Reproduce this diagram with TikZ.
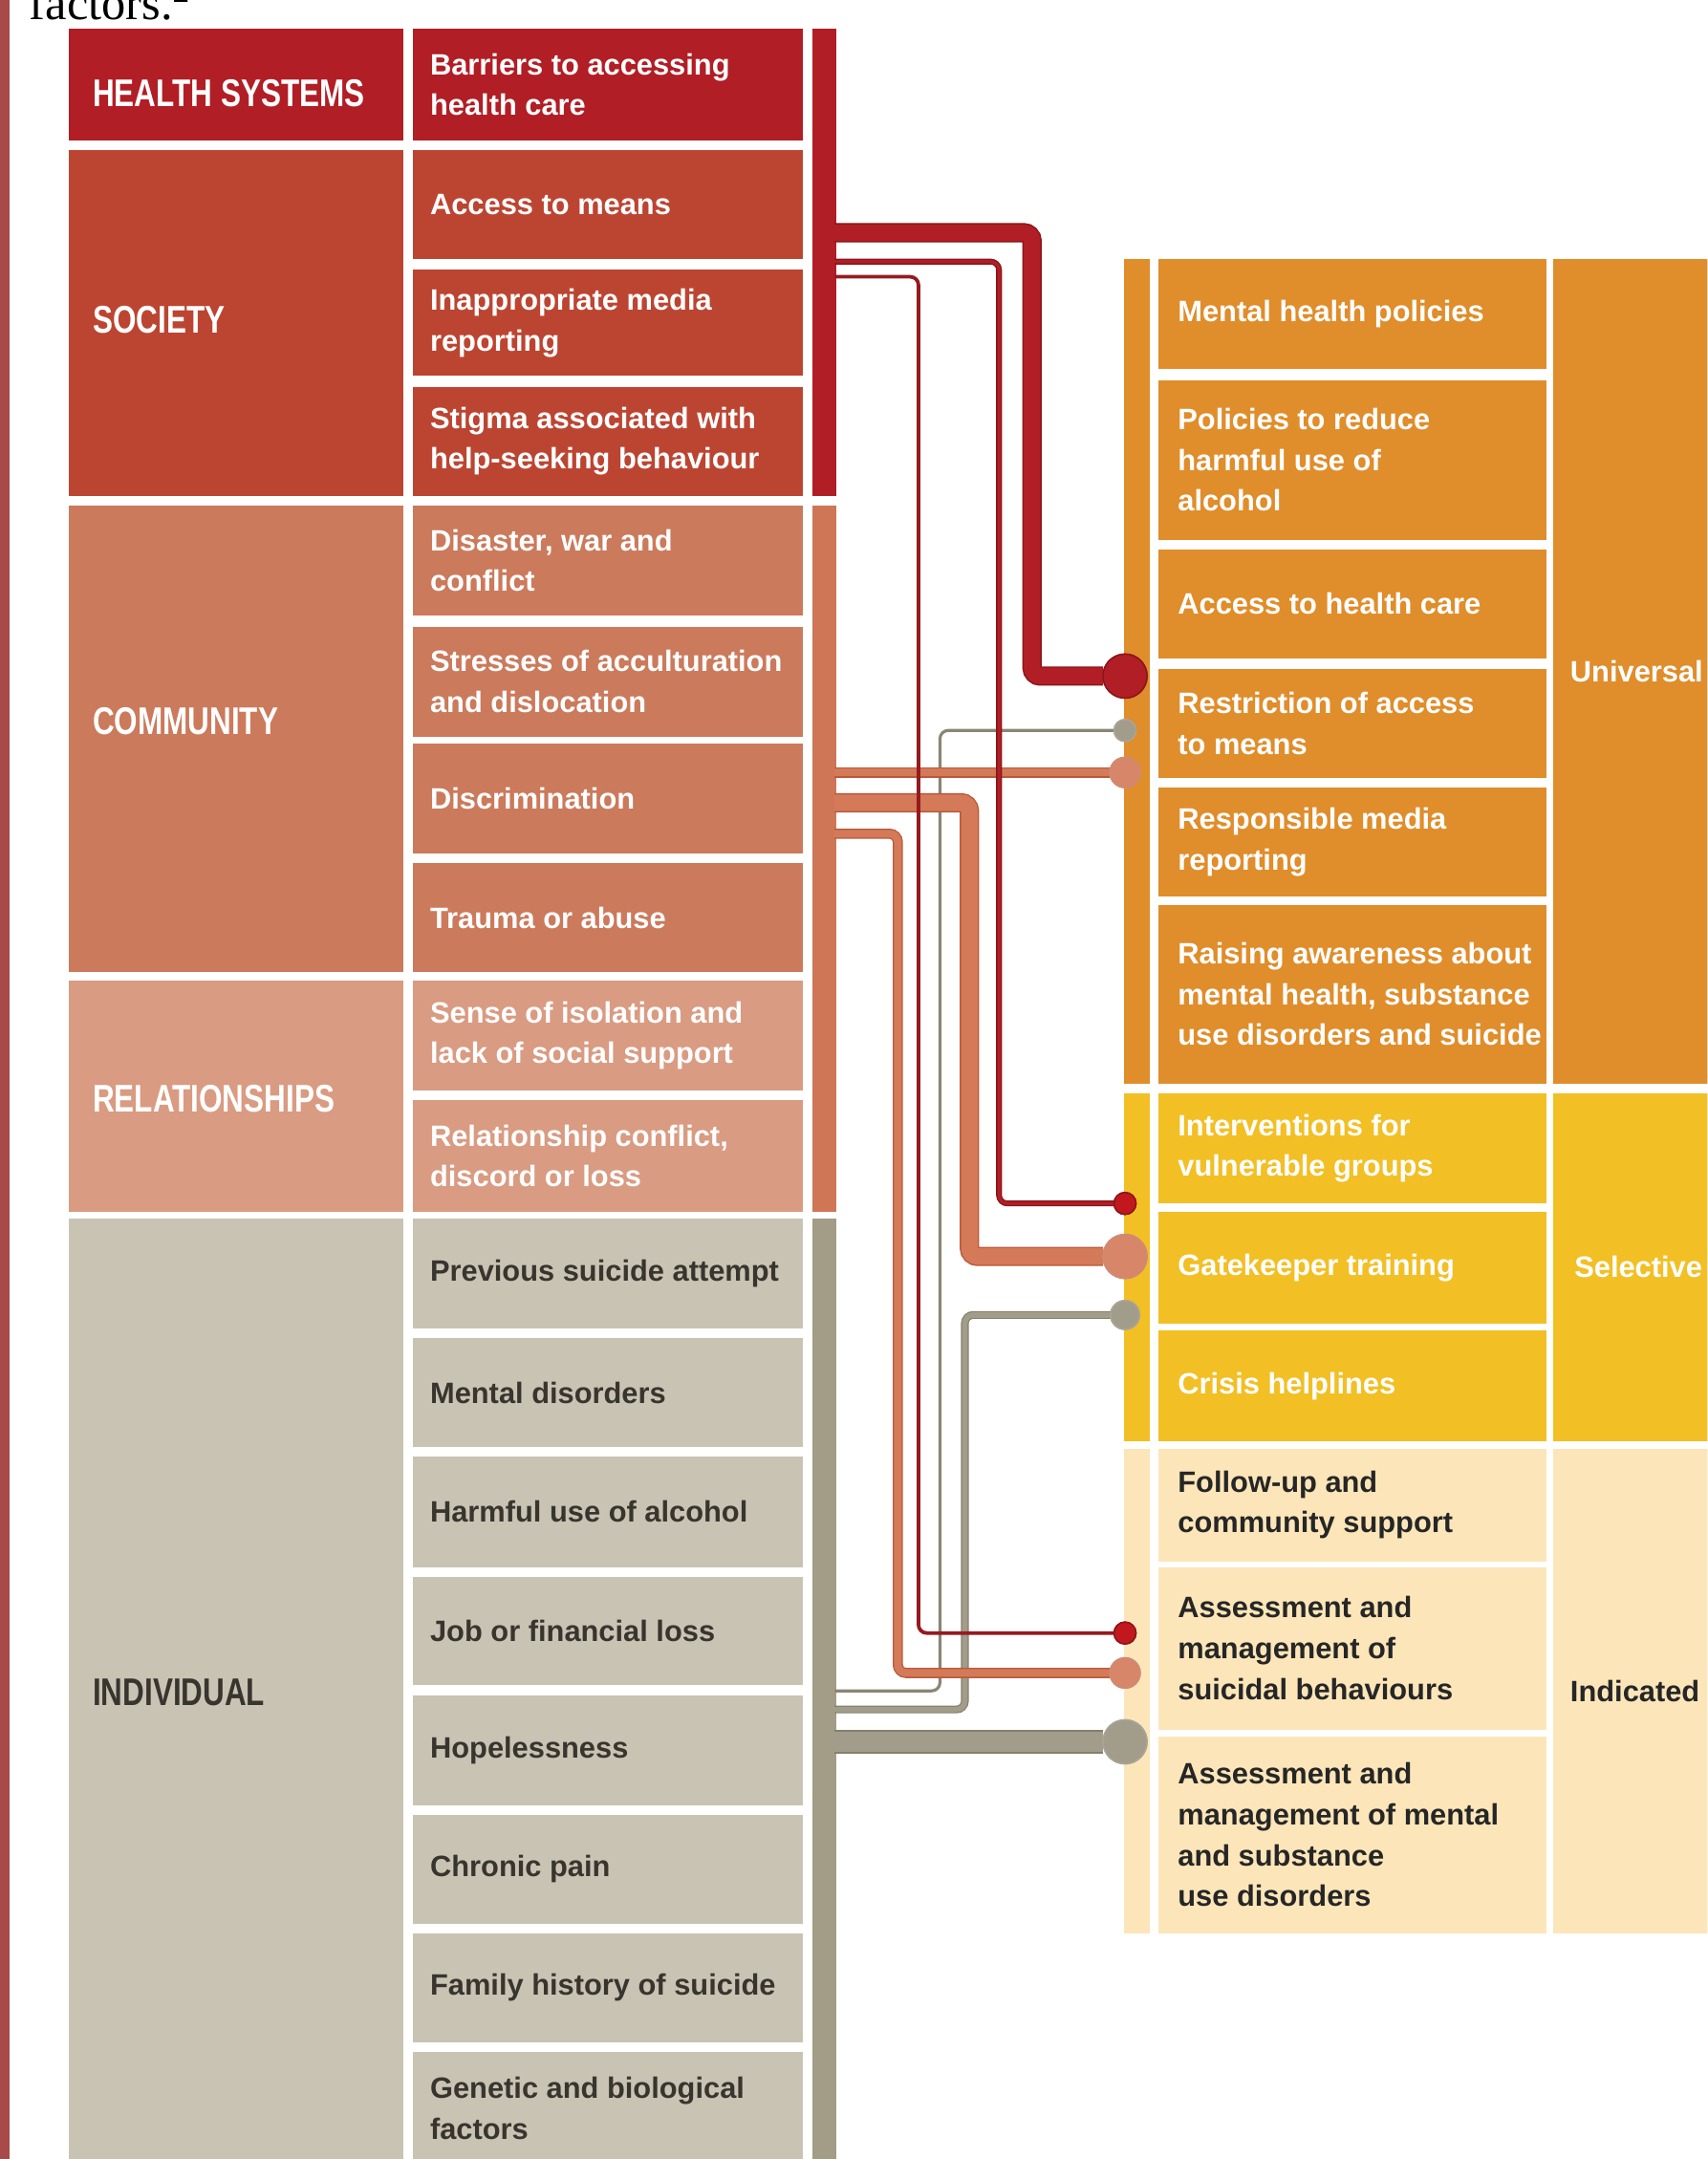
\documentclass[tikz,border=0pt]{standalone}
\usepackage{fontspec}
\setmainfont{Liberation Sans}
\newfontfamily\hdrfont[FakeStretch=0.78]{Liberation Sans}
\newfontfamily\capfont{Liberation Serif}
\newcommand\cellfont{\bfseries\fontsize{10.7}{14.8}\selectfont}

\definecolor{hsred}{HTML}{B11E25}
\definecolor{hsdark}{HTML}{8A1519}
\definecolor{socred}{HTML}{BC4532}
\definecolor{comcol}{HTML}{CB7A5C}
\definecolor{combarcol}{HTML}{CF7657}
\definecolor{comline}{HTML}{D47A58}
\definecolor{comdark}{HTML}{B9593A}
\definecolor{comdot}{HTML}{D8866A}
\definecolor{relcol}{HTML}{D99B82}
\definecolor{indcol}{HTML}{C9C3B3}
\definecolor{indbarcol}{HTML}{A39C86}
\definecolor{grayline}{HTML}{A29D8A}
\definecolor{graydark}{HTML}{857F6B}
\definecolor{unicol}{HTML}{E08D2B}
\definecolor{selcol}{HTML}{F2BF25}
\definecolor{indicol}{HTML}{FCE6B9}
\definecolor{edgecol}{HTML}{A8494A}
\definecolor{darktext}{HTML}{38352F}
\definecolor{thinred}{HTML}{951A1F}
\definecolor{dotred}{HTML}{C3171E}

% factor cell: name, fill, text colour, top, bottom, text
\newcommand\fctcell[6]{%
  \node[cellbox, fill=#2, minimum width=141.5pt, minimum height={(#5-#4)*0.5pt}] (#1) at (300,#4) {};
  \node[celltext, text=#3] (#1t) at (312,{(#4+#5)/2}) {#6};
}
% intervention cell: name, fill, text colour, top, bottom, text
\newcommand\intcell[6]{%
  \node[cellbox, fill=#2, minimum width=141pt, minimum height={(#5-#4)*0.5pt}] (#1) at (841,#4) {};
  \node[celltext, text=#3] (#1t) at (855,{(#4+#5)/2}) {#6};
}

\begin{document}
\begin{tikzpicture}[x=0.5pt,y=-0.5pt,
  cellbox/.style={rectangle, anchor=north west, inner sep=0pt, outer sep=0pt, draw=none},
  celltext/.style={anchor=west, inner sep=0pt, align=left, font=\cellfont},
  hdr/.style={anchor=west, inner sep=0pt, font=\hdrfont\bfseries\fontsize{14}{16}\selectfont},
  conn/.style={rounded corners=3pt, line width=0.5pt},
  dot/.style={circle, inner sep=0pt, outer sep=0pt, line width=0.5pt},
]
\useasboundingbox (0,0) rectangle (1240,1568);
\clip (0,0) rectangle (1240,1568);

% left page stripe and caption
\fill[edgecol] (0,0) rectangle (7,1568);
\node[anchor=base west, inner sep=0pt, font=\capfont\fontsize{17.5}{20}\selectfont] (cap) at (21,14) {factors.\textsuperscript{2}};

% category boxes
\node[cellbox, fill=hsred, minimum width=121.5pt, minimum height={(102-21)*0.5pt}] (hs) at (50,21) {};
\node[hdr, text=white] (hst) at (67,68) {HEALTH SYSTEMS};
\node[cellbox, fill=socred, minimum width=121.5pt, minimum height={(360-109)*0.5pt}] (soc) at (50,109) {};
\node[hdr, text=white] (soct) at (67,232) {SOCIETY};
\node[cellbox, fill=comcol, minimum width=121.5pt, minimum height={(706-367)*0.5pt}] (com) at (50,367) {};
\node[hdr, text=white] (comt) at (67,524) {COMMUNITY};
\node[cellbox, fill=relcol, minimum width=121.5pt, minimum height={(880-712)*0.5pt}] (rel) at (50,712) {};
\node[hdr, text=white] (relt) at (67,798) {RELATIONSHIPS};
\node[cellbox, fill=indcol, minimum width=121.5pt, minimum height={(1575-885)*0.5pt}] (ind) at (50,885) {};
\node[hdr, text=darktext] (indt) at (67,1229) {INDIVIDUAL};

% factor cells
\fctcell{f1}{hsred}{white}{21}{102}{Barriers to accessing\\health care}
\fctcell{f2}{socred}{white}{109}{188}{Access to means}
\fctcell{f3}{socred}{white}{196}{273}{Inappropriate media\\reporting}
\fctcell{f4}{socred}{white}{281}{360}{Stigma associated with\\help-seeking behaviour}
\fctcell{f5}{comcol}{white}{367}{447}{Disaster, war and\\conflict}
\fctcell{f6}{comcol}{white}{455}{535}{Stresses of acculturation\\and dislocation}
\fctcell{f7}{comcol}{white}{540}{620}{Discrimination}
\fctcell{f8}{comcol}{white}{627}{706}{Trauma or abuse}
\fctcell{f9}{relcol}{white}{712}{792}{Sense of isolation and\\lack of social support}
\fctcell{f10}{relcol}{white}{799}{880}{Relationship conflict,\\discord or loss}
\fctcell{f11}{indcol}{darktext}{885}{965}{Previous suicide attempt}
\fctcell{f12}{indcol}{darktext}{972}{1051}{Mental disorders}
\fctcell{f13}{indcol}{darktext}{1058}{1138}{Harmful use of alcohol}
\fctcell{f14}{indcol}{darktext}{1145}{1224}{Job or financial loss}
\fctcell{f15}{indcol}{darktext}{1231}{1311}{Hopelessness}
\fctcell{f16}{indcol}{darktext}{1318}{1397}{Chronic pain}
\fctcell{f17}{indcol}{darktext}{1404}{1483}{Family history of suicide}
\fctcell{f18}{indcol}{darktext}{1490}{1572}{Genetic and biological\\factors}

% bars at the right of the factors
\node[cellbox, fill=hsred, minimum width=8.5pt, minimum height={(360-21)*0.5pt}] (hsbar) at (590,21) {};
\node[cellbox, fill=combarcol, minimum width=8.5pt, minimum height={(880-367)*0.5pt}] (combar) at (590,367) {};
\node[cellbox, fill=indbarcol, minimum width=8.5pt, minimum height={(1575-885)*0.5pt}] (indbar) at (590,885) {};

% intervention groups: thin column and level column
\node[cellbox, fill=unicol, minimum width=9.5pt, minimum height={(787-188)*0.5pt}] (ua) at (816,188) {};
\node[cellbox, fill=selcol, minimum width=9.5pt, minimum height={(1047-794)*0.5pt}] (sa) at (816,794) {};
\node[cellbox, fill=indicol, minimum width=9.5pt, minimum height={(1404-1052)*0.5pt}] (ia) at (816,1052) {};
\node[cellbox, fill=unicol, minimum width=65pt, minimum height={(787-188)*0.5pt}] (uc) at (1128,188) {};
\node[celltext, text=white] (uct) at (1140,487.5) {Universal};
\node[cellbox, fill=selcol, minimum width=65pt, minimum height={(1047-794)*0.5pt}] (sc) at (1128,794) {};
\node[celltext, text=white] (sct) at (1143,920) {Selective};
\node[cellbox, fill=indicol, minimum width=65pt, minimum height={(1404-1052)*0.5pt}] (ic) at (1128,1052) {};
\node[celltext, text=black!85] (ict) at (1140,1228) {Indicated};

% intervention cells
\intcell{i1}{unicol}{white}{188}{268}{Mental health policies}
\intcell{i2}{unicol}{white}{276}{392}{Policies to reduce\\harmful use of\\alcohol}
\intcell{i3}{unicol}{white}{399}{478}{Access to health care}
\intcell{i4}{unicol}{white}{486}{565}{Restriction of access\\to means}
\intcell{i5}{unicol}{white}{572}{651}{Responsible media\\reporting}
\intcell{i6}{unicol}{white}{657}{787}{Raising awareness about\\mental health, substance\\use disorders and suicide}
\intcell{i7}{selcol}{white}{794}{874}{Interventions for\\vulnerable groups}
\intcell{i8}{selcol}{white}{880}{961}{Gatekeeper training}
\intcell{i9}{selcol}{white}{966}{1047}{Crisis helplines}
\intcell{i10}{indicol}{black!85}{1052}{1134}{Follow-up and\\community support}
\intcell{i11}{indicol}{black!85}{1138}{1256}{Assessment and\\management of\\suicidal behaviours}
\intcell{i12}{indicol}{black!85}{1261}{1404}{Assessment and\\management of mental\\and substance\\use disorders}

% connector start points on the bars
\coordinate (h1) at (606,169);
\coordinate (h2) at (606,190);
\coordinate (h3) at (606,201);
\coordinate (c1) at (606,561);
\coordinate (c2) at (606,583);
\coordinate (c3) at (606,605.5);
\coordinate (g1) at (606,1228);
\coordinate (g2) at (606,1241.5);
\coordinate (g3) at (606,1265);

% end dots
\node[dot, fill=hsred, draw=hsdark, minimum size=16pt] (d1) at (817,491) {};
\node[dot, fill=dotred, draw=hsdark, minimum size=8pt] (d2) at (817,874) {};
\node[dot, fill=dotred, draw=hsdark, minimum size=8pt] (d3) at (817,1186) {};
\node[dot, fill=comdot, draw=comdark!70, minimum size=11pt] (d4) at (817,561) {};
\node[dot, fill=comdot, draw=comdark!70, minimum size=16pt] (d5) at (817,912.5) {};
\node[dot, fill=comdot, draw=comdark!70, minimum size=11pt] (d6) at (817,1215) {};
\node[dot, fill=grayline, draw=graydark!70, minimum size=8pt] (d7) at (817,530.5) {};
\node[dot, fill=grayline, draw=graydark!70, minimum size=10.5pt] (d8) at (817,955) {};
\node[dot, fill=grayline, draw=graydark!70, minimum size=16pt] (d9) at (817,1265) {};

% connectors: individual
\draw[conn, draw=graydark, double=grayline, double distance=7.5pt] (g3) -- (d9);
\draw[conn, draw=graydark, double=grayline, double distance=2pt, line width=0.4pt] (g2) -- ++(94.7,0) |- (d8);
\draw[conn, draw=grayline!85!black, line width=1.1pt] (g1) -- ++(76.6,0) |- (d7);
% connectors: community
\draw[conn, draw=comdark, double=comline, double distance=2.9pt, line width=0.45pt] (c1) -- (d4);
\draw[conn, draw=comdark, double=comline, double distance=6pt] (c2) -- ++(98,0) |- (d5);
\draw[conn, draw=comdark, double=comline, double distance=2.8pt, line width=0.45pt] (c3) -- ++(46,0) |- (d6);
% connectors: health systems / society
\draw[conn, draw=hsdark, double=hsred, double distance=6pt] (h1) -- ++(143.5,0) |- (d1);
\draw[conn, draw=hsdark, double=hsred, double distance=1.2pt, line width=0.45pt] (h2) -- ++(119.5,0) |- (d2);
\draw[conn, draw=thinred, line width=1.3pt] (h3) -- ++(61,0) |- (d3);

% redraw dots on top of the connectors
\node[dot, fill=hsred, draw=hsdark, minimum size=16pt] at (d1) {};
\node[dot, fill=dotred, draw=hsdark, minimum size=8pt] at (d2) {};
\node[dot, fill=dotred, draw=hsdark, minimum size=8pt] at (d3) {};
\node[dot, fill=comdot, draw=comdark!70, minimum size=11pt] at (d4) {};
\node[dot, fill=comdot, draw=comdark!70, minimum size=16pt] at (d5) {};
\node[dot, fill=comdot, draw=comdark!70, minimum size=11pt] at (d6) {};
\node[dot, fill=grayline, draw=graydark!70, minimum size=8pt] at (d7) {};
\node[dot, fill=grayline, draw=graydark!70, minimum size=10.5pt] at (d8) {};
\node[dot, fill=grayline, draw=graydark!70, minimum size=16pt] at (d9) {};
\end{tikzpicture}
\end{document}
